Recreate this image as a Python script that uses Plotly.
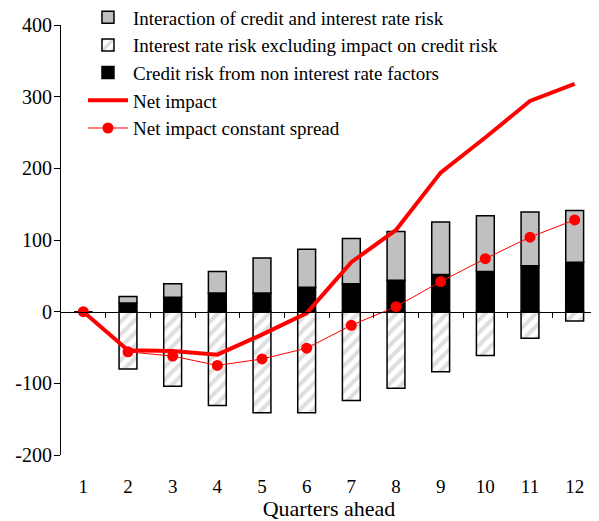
import plotly.graph_objects as go

quarters = [1, 2, 3, 4, 5, 6, 7, 8, 9, 10, 11, 12]
credit_risk = [0, 12, 20, 26, 26, 34, 39, 44, 52, 56, 64, 69]
interest_rate_risk = [0, -80, -104, -131, -141, -141, -124, -107, -84, -61, -37, -13]
interaction = [0, 9, 19, 30, 49, 53, 63, 68, 73, 78, 75, 72]
net_impact = [0, -54, -55, -60, -32, -2, 69, 114, 194, 243, 294, 318]
net_const_spread = [0, -56, -62, -75, -66, -51, -19, 7, 42, 74, 104, 128]
y_ticks = [-200, -100, 0, 100, 200, 300, 400]

serif = "Liberation Serif"

fig = go.Figure()

fig.add_trace(go.Bar(
    x=quarters, y=credit_risk, name="Credit risk from non interest rate factors",
    marker=dict(color="black", line=dict(color="black", width=1.5)),
    legendrank=3,
))
fig.add_trace(go.Bar(
    x=quarters, y=interest_rate_risk, name="Interest rate risk excluding impact on credit risk",
    marker=dict(color="white", line=dict(color="black", width=1.5),
                pattern=dict(shape="/", fgcolor="#bdbdbd", bgcolor="white", size=9, solidity=0.45)),
    legendrank=2,
))
fig.add_trace(go.Bar(
    x=quarters, y=interaction, name="Interaction of credit and interest rate risk",
    marker=dict(color="#c0c0c0", line=dict(color="black", width=1.5)),
    legendrank=1,
))
fig.add_trace(go.Scatter(
    x=quarters, y=net_impact, name="Net impact", mode="lines",
    line=dict(color="#ff0000", width=4), xaxis="x2", legendrank=4,
))
fig.add_trace(go.Scatter(
    x=quarters, y=net_const_spread, name="Net impact constant spread", mode="lines+markers",
    line=dict(color="#ff0000", width=1), marker=dict(color="#ff0000", size=11),
    xaxis="x2", legendrank=5,
))

xrange = [quarters[0] - 0.5, quarters[-1] + 0.5]

# page body has an 8px margin, so the figure is sized/offset to compensate
fig.update_layout(
    width=591, height=513,
    margin=dict(l=53, r=2, t=17, b=66, autoexpand=False),
    paper_bgcolor="white", plot_bgcolor="white",
    font=dict(family=serif, size=19, color="black"),
    barmode="relative", bargap=0.6,
    showlegend=True,
    legend=dict(x=0.041, y=1.062, xanchor="left", yanchor="top",
                bgcolor="rgba(0,0,0,0)", font=dict(family=serif, size=19), tracegroupgap=0,
                itemwidth=40),
    xaxis=dict(range=xrange, anchor="free", position=1/3, automargin=False,
               showline=True, linecolor="black", linewidth=1,
               ticks="outside", ticklen=5, tickcolor="black",
               tickvals=[q + 0.5 for q in quarters], showticklabels=False,
               showgrid=False, zeroline=False),
    xaxis2=dict(range=xrange, overlaying="x", side="bottom", anchor="y", automargin=False,
                tickvals=quarters, ticktext=[str(q) for q in quarters],
                showline=False, ticks="", showgrid=False, zeroline=False,
                ticklabelstandoff=18, tickfont=dict(family=serif, size=19),
                title=dict(text="Quarters ahead", font=dict(family=serif, size=22), standoff=0)),
    yaxis=dict(range=[-200, 400], tickvals=y_ticks, ticktext=[str(v) for v in y_ticks],
               automargin=False,
               showline=True, linecolor="black", linewidth=1,
               ticks="outside", ticklen=6, tickcolor="black", ticklabelstandoff=-2,
               showgrid=False, zeroline=False, tickfont=dict(family=serif, size=20)),
)

fig.write_html("out.html")
